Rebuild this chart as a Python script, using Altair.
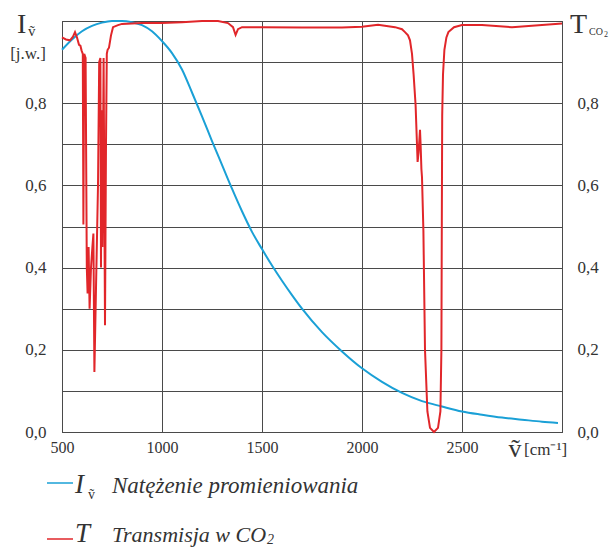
import altair as alt
import pandas as pd

# Intensity (Planck-like curve)
blue_nu = [500, 550, 600, 650, 700, 750, 800, 850, 900, 950, 1000, 1050, 1100, 1150,
           1200, 1250, 1300, 1350, 1400, 1450, 1500, 1550, 1600, 1650, 1700, 1800, 1900,
           2000, 2100, 2200, 2300, 2400, 2500, 2600, 2700, 2800, 2900, 2980]
blue_val = [0.93, 0.955, 0.975, 0.988, 0.996, 1.0, 1.0, 0.997, 0.99, 0.975, 0.951, 0.922,
            0.882, 0.826, 0.768, 0.708, 0.65, 0.592, 0.537, 0.487, 0.445, 0.405, 0.368,
            0.333, 0.30, 0.243, 0.196, 0.155, 0.122, 0.095, 0.075, 0.062, 0.05, 0.042,
            0.035, 0.03, 0.025, 0.022]

# CO2 transmission
red_nu = [500, 520, 540, 555, 565, 575, 585, 592, 598, 604, 607, 611, 618, 624, 628, 633,
          638, 645, 652, 657, 662, 670, 680, 686, 692, 695, 698, 702, 708, 715, 720, 724,
          728, 735, 745, 755, 780, 800, 900, 1000, 1100, 1200, 1280, 1330, 1355, 1368,
          1380, 1400, 1500, 1700, 1900, 2000, 2080, 2165, 2200, 2215, 2230, 2240, 2250,
          2258, 2268, 2278, 2283, 2290, 2293, 2297, 2300, 2307, 2315, 2327, 2340, 2360,
          2380, 2392, 2397, 2399, 2401, 2405, 2412, 2422, 2432, 2460, 2500, 2600, 2750,
          2900, 3000]
red_val = [0.96, 0.955, 0.953, 0.962, 0.973, 0.96, 0.942, 0.94, 0.928, 0.92, 0.505, 0.92,
           0.91, 0.40, 0.337, 0.45, 0.30, 0.40, 0.45, 0.483, 0.146, 0.35, 0.60, 0.90,
           0.91, 0.40, 0.783, 0.45, 0.91, 0.26, 0.70, 0.92, 0.93, 0.935, 0.965, 0.985,
           0.99, 0.993, 0.995, 0.995, 0.997, 1.0, 1.0, 0.995, 0.985, 0.966, 0.98, 0.985,
           0.985, 0.984, 0.984, 0.986, 0.991, 0.985, 0.98, 0.973, 0.965, 0.953, 0.92, 0.87,
           0.795, 0.657, 0.68, 0.735, 0.70, 0.64, 0.62, 0.49, 0.20, 0.05, 0.01, 0.0, 0.01,
           0.05, 0.20, 0.50, 0.77, 0.87, 0.93, 0.96, 0.973, 0.985, 0.99, 0.99, 0.985, 0.99,
           0.994]

x_ticks = [500, 1000, 1500, 2000, 2500, 3000]
y_ticks = [0.0, 0.1, 0.2, 0.3, 0.4, 0.5, 0.6, 0.7, 0.8, 0.9, 1.0]

BLUE = "#1aa0d6"
RED = "#e1262a"
GRID = "#4a4a4a"
TXT = "#333333"
FONT = "Liberation Serif"

blue_df = pd.DataFrame({"nu": blue_nu, "v": blue_val, "o": range(len(blue_nu))})
red_df = pd.DataFrame({"nu": red_nu, "v": red_val, "o": range(len(red_nu))})

ylab = ("round(datum.value*10) % 2 == 0 && datum.value < 0.95 ? "
        "replace(format(datum.value, '.1f'), '.', ',') : ''")

xenc = alt.X("nu:Q", scale=alt.Scale(domain=[500, 3000], nice=False),
             axis=alt.Axis(values=x_ticks, labelExpr="datum.value < 2900 ? datum.label : ''",
                           format="d", grid=True, gridColor=GRID, gridWidth=1,
                           domainColor=GRID, ticks=False, labelFont=FONT, labelFontSize=16,
                           labelColor=TXT, labelPadding=7, labelFlush=False, title=None))

blue = alt.Chart(blue_df).mark_line(color=BLUE, strokeWidth=2, interpolate="monotone").encode(
    x=xenc,
    y=alt.Y("v:Q", scale=alt.Scale(domain=[0, 1], nice=False),
            axis=alt.Axis(values=y_ticks, labelExpr=ylab, grid=True, gridColor=GRID,
                          gridWidth=1, domainColor=GRID, ticks=False, labelFont=FONT,
                          labelFontSize=17, labelColor=TXT, labelPadding=16, title=None)),
    order="o:Q",
)

red = alt.Chart(red_df).mark_line(color=RED, strokeWidth=2).encode(
    x=alt.X("nu:Q", scale=alt.Scale(domain=[500, 3000], nice=False)),
    y=alt.Y("v:Q", scale=alt.Scale(domain=[0, 1], nice=False),
            axis=alt.Axis(orient="right", values=y_ticks, labelExpr=ylab, grid=False,
                          domainColor=GRID, ticks=False, labelFont=FONT, labelFontSize=17,
                          labelColor=TXT, labelPadding=15, title=None)),
    order="o:Q",
)

one = pd.DataFrame({"a": [0]})


def txt(s, x, y, size, italic=False, align="left", color=TXT):
    return alt.Chart(one).mark_text(
        text=s, font=FONT, fontSize=size, fontStyle="italic" if italic else "normal",
        align=align, baseline="alphabetic", color=color,
    ).encode(x=alt.value(x), y=alt.value(y))


def seg(x1, x2, y, color):
    return alt.Chart(one).mark_rule(color=color, strokeWidth=1.5).encode(
        x=alt.value(x1), x2=alt.value(x2), y=alt.value(y))


annots = [
    txt("I", -45, 12, 28),
    txt("ṽ", -34, 15, 15),
    txt("[j.w.]", -34, 38, 17, align="center"),
    txt("T", 508, 12, 28),
    txt("CO", 527, 14, 10),
    txt("2", 542, 16, 8),
    txt("ṽ", 453, 436, 26, align="center"),
    txt("[cm⁻¹]", 462, 434, 17),
    seg(-15, 11, 462, BLUE),
    txt("I", 13, 472, 27, italic=True),
    txt("ṽ", 26, 478, 14),
    txt("Natężenie promieniowania", 50, 472, 23, italic=True),
    seg(-15, 11, 518, RED),
    txt("T", 13, 521, 27, italic=True),
    txt("Transmisja w CO", 50, 521, 22, italic=True),
    txt("2", 205, 523, 14, italic=True),
]

chart = alt.layer(blue, red, *annots).resolve_scale(y="independent").properties(
    width=500, height=411,
    autosize=alt.AutoSizeParams(type="none"),
    padding={"left": 62, "top": 21, "right": 48, "bottom": 116},
    background="white",
).configure_view(stroke=GRID, strokeWidth=1)

chart.save("out.html", embed_options={"renderer": "svg", "actions": False})
